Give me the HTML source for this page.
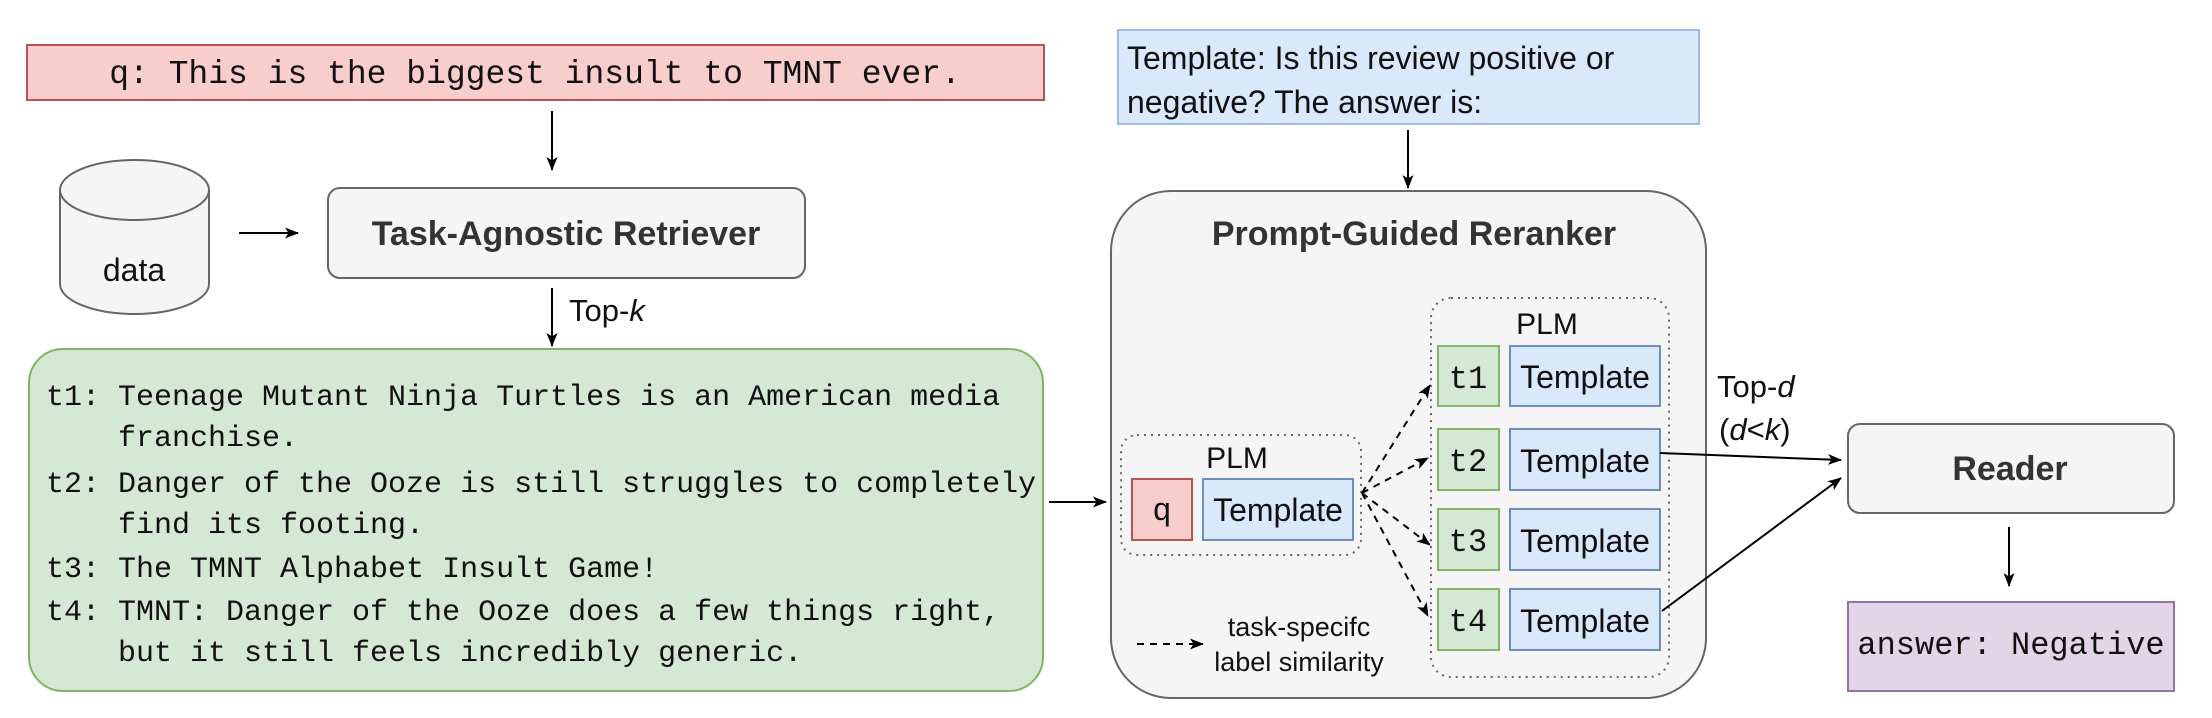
<!DOCTYPE html>
<html><head><meta charset="utf-8"><style>
html,body{margin:0;padding:0;background:#fff;}
svg{display:block;}
.m{font-family:"Liberation Mono","DejaVu Sans Mono",monospace;fill:#111;}
.s{font-family:"Liberation Sans",Arial,sans-serif;fill:#111;}
.b{font-family:"Liberation Sans",Arial,sans-serif;font-weight:bold;fill:#333;}
</style></head><body>
<svg width="2212" height="718" viewBox="0 0 2212 718" xmlns="http://www.w3.org/2000/svg">
<defs>
<marker id="ah" markerWidth="14" markerHeight="11" refX="13" refY="5.5" orient="auto" markerUnits="userSpaceOnUse">
<path d="M0,0 L14,5.5 L0,11 L3.5,5.5 z" fill="#000"/></marker>
</defs>
<!-- query -->
<rect x="27" y="45" width="1017" height="55" fill="#f8cecc" stroke="#b85450" stroke-width="2"/>
<text class="m" x="535" y="83" font-size="33" text-anchor="middle">q: This is the biggest insult to TMNT ever.</text>
<line x1="552" y1="111" x2="552" y2="170" stroke="#000" stroke-width="2" marker-end="url(#ah)"/>
<!-- cylinder -->
<path d="M60,190 L60,284 A74.5,30 0 0 0 209,284 L209,190" fill="#f5f5f5" stroke="#666" stroke-width="2"/>
<ellipse cx="134.5" cy="190" rx="74.5" ry="30" fill="#f5f5f5" stroke="#666" stroke-width="2"/>
<text class="s" x="134" y="281" font-size="32" text-anchor="middle" fill="#333">data</text>
<line x1="239" y1="233" x2="298" y2="233" stroke="#000" stroke-width="2" marker-end="url(#ah)"/>
<!-- retriever -->
<rect x="328" y="188" width="477" height="90" rx="12" fill="#f5f5f5" stroke="#666" stroke-width="2"/>
<text class="b" x="566" y="245" font-size="34" text-anchor="middle">Task-Agnostic Retriever</text>
<line x1="552" y1="288" x2="552" y2="346" stroke="#000" stroke-width="2" marker-end="url(#ah)"/>
<text class="s" x="569" y="321" font-size="31">Top-<tspan font-style="italic">k</tspan></text>
<!-- green -->
<rect x="29" y="349" width="1014" height="342" rx="34" fill="#d5e8d4" stroke="#82b366" stroke-width="2"/>
<g class="m" font-size="30">
<text x="46" y="405">t1: Teenage Mutant Ninja Turtles is an American media</text>
<text x="118" y="446">franchise.</text>
<text x="46" y="492">t2: Danger of the Ooze is still struggles to completely</text>
<text x="118" y="533">find its footing.</text>
<text x="46" y="577">t3: The TMNT Alphabet Insult Game!</text>
<text x="46" y="620">t4: TMNT: Danger of the Ooze does a few things right,</text>
<text x="118" y="661">but it still feels incredibly generic.</text>
</g>
<line x1="1049" y1="502" x2="1106" y2="502" stroke="#000" stroke-width="2" marker-end="url(#ah)"/>
<!-- template top -->
<rect x="1118" y="30" width="581" height="94" fill="#dae8fc" stroke="#9ebbe8" stroke-width="2"/>
<text class="s" x="1127" y="69" font-size="32">Template: Is this review positive or</text>
<text class="s" x="1127" y="113" font-size="32">negative? The answer is:</text>
<line x1="1408" y1="130" x2="1408" y2="188" stroke="#000" stroke-width="2" marker-end="url(#ah)"/>
<!-- reranker -->
<rect x="1111" y="191" width="595" height="507" rx="60" fill="#f5f5f5" stroke="#666" stroke-width="2"/>
<text class="b" x="1414" y="245" font-size="34" text-anchor="middle">Prompt-Guided Reranker</text>
<rect x="1121" y="435" width="240" height="120" rx="16" fill="none" stroke="#666" stroke-width="2" stroke-dasharray="2,5"/>
<text class="s" x="1237" y="468" font-size="30" text-anchor="middle">PLM</text>
<rect x="1132" y="479" width="60" height="61" fill="#f8cecc" stroke="#b85450" stroke-width="2"/>
<text class="m" x="1162" y="520" font-size="32" text-anchor="middle">q</text>
<rect x="1203" y="479" width="150" height="61" fill="#dae8fc" stroke="#6c8ebf" stroke-width="2"/>
<text class="s" x="1278" y="521" font-size="32" text-anchor="middle">Template</text>
<rect x="1431" y="298" width="238" height="379" rx="20" fill="none" stroke="#666" stroke-width="2" stroke-dasharray="2,5"/>
<text class="s" x="1547" y="334" font-size="30" text-anchor="middle">PLM</text>
<g>
<rect x="1438" y="346" width="61" height="60" fill="#d5e8d4" stroke="#82b366" stroke-width="2"/>
<rect x="1510" y="346" width="150" height="60" fill="#dae8fc" stroke="#6c8ebf" stroke-width="2"/>
<text class="m" x="1468" y="388" font-size="32" text-anchor="middle">t1</text>
<text class="s" x="1585" y="388" font-size="32" text-anchor="middle">Template</text>
<rect x="1438" y="429" width="61" height="61" fill="#d5e8d4" stroke="#82b366" stroke-width="2"/>
<rect x="1510" y="429" width="150" height="61" fill="#dae8fc" stroke="#6c8ebf" stroke-width="2"/>
<text class="m" x="1468" y="471" font-size="32" text-anchor="middle">t2</text>
<text class="s" x="1585" y="472" font-size="32" text-anchor="middle">Template</text>
<rect x="1438" y="509" width="61" height="61" fill="#d5e8d4" stroke="#82b366" stroke-width="2"/>
<rect x="1510" y="509" width="150" height="61" fill="#dae8fc" stroke="#6c8ebf" stroke-width="2"/>
<text class="m" x="1468" y="551" font-size="32" text-anchor="middle">t3</text>
<text class="s" x="1585" y="552" font-size="32" text-anchor="middle">Template</text>
<rect x="1438" y="589" width="61" height="61" fill="#d5e8d4" stroke="#82b366" stroke-width="2"/>
<rect x="1510" y="589" width="150" height="61" fill="#dae8fc" stroke="#6c8ebf" stroke-width="2"/>
<text class="m" x="1468" y="631" font-size="32" text-anchor="middle">t4</text>
<text class="s" x="1585" y="632" font-size="32" text-anchor="middle">Template</text>
</g>
<g stroke="#000" stroke-width="2" stroke-dasharray="7,6" fill="none">
<line x1="1362" y1="493" x2="1430" y2="385" marker-end="url(#ah)"/>
<line x1="1362" y1="493" x2="1428" y2="458" marker-end="url(#ah)"/>
<line x1="1362" y1="493" x2="1430" y2="545" marker-end="url(#ah)"/>
<line x1="1362" y1="493" x2="1428" y2="616" marker-end="url(#ah)"/>
<line x1="1137" y1="644" x2="1203" y2="644" marker-end="url(#ah)"/>
</g>
<text class="s" x="1299" y="636" font-size="27" text-anchor="middle">task-specifc</text>
<text class="s" x="1299" y="671" font-size="27" text-anchor="middle">label similarity</text>
<text class="s" x="1717" y="397" font-size="31">Top-<tspan font-style="italic">d</tspan></text>
<text class="s" x="1719" y="440" font-size="31">(<tspan font-style="italic">d</tspan>&lt;<tspan font-style="italic">k</tspan>)</text>
<line x1="1660" y1="453" x2="1841" y2="460" stroke="#000" stroke-width="2" marker-end="url(#ah)"/>
<line x1="1662" y1="611" x2="1841" y2="478" stroke="#000" stroke-width="2" marker-end="url(#ah)"/>
<!-- reader -->
<rect x="1848" y="424" width="326" height="89" rx="12" fill="#f5f5f5" stroke="#666" stroke-width="2"/>
<text class="b" x="2010" y="480" font-size="34" text-anchor="middle">Reader</text>
<line x1="2009" y1="527" x2="2009" y2="586" stroke="#000" stroke-width="2" marker-end="url(#ah)"/>
<rect x="1848" y="602" width="326" height="89" fill="#e1d5e7" stroke="#9673a6" stroke-width="2"/>
<text class="m" x="2011" y="654" font-size="32" text-anchor="middle">answer: Negative</text>
</svg>
</body></html>
